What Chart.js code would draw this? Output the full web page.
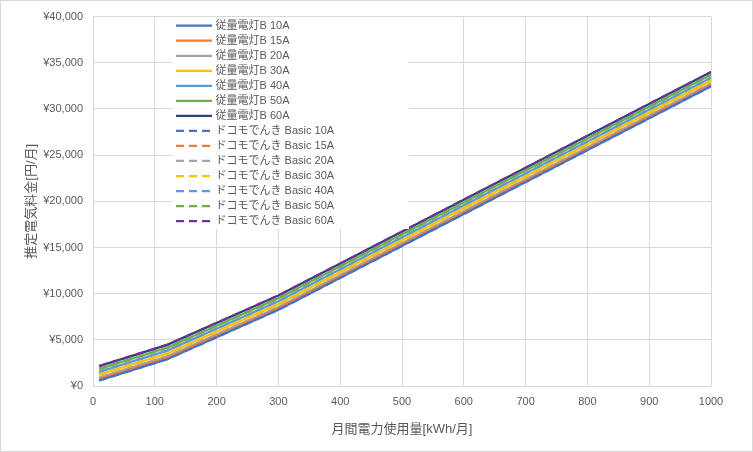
<!DOCTYPE html>
<html>
<head>
<meta charset="utf-8">
<script src="https://cdn.jsdelivr.net/npm/chart.js@4"></script>
<style>
html,body{margin:0;padding:0;background:#fff;}
canvas{display:block;}
</style>
</head>
<body>
<canvas id="c" width="753" height="452"></canvas>
<script>
// usage (kWh/month)
const usage = [10, 120, 300, 1000];

// 従量電灯B (yen/month)
const juryoB10 = [600, 2900, 8250, 32450];
const juryoB15 = [756, 3056, 8406, 32606];
const juryoB20 = [912, 3212, 8562, 32762];
const juryoB30 = [1224, 3524, 8874, 33074];
const juryoB40 = [1535, 3835, 9185, 33385];
const juryoB50 = [1847, 4147, 9497, 33697];
const juryoB60 = [2159, 4459, 9809, 34009];

// ドコモでんき Basic (yen/month)
const docomo10 = [600, 2900, 8250, 32450];
const docomo15 = [756, 3056, 8406, 32606];
const docomo20 = [912, 3212, 8562, 32762];
const docomo30 = [1224, 3524, 8874, 33074];
const docomo40 = [1535, 3835, 9185, 33385];
const docomo50 = [1847, 4147, 9497, 33697];
const docomo60 = [2159, 4459, 9809, 34009];

const juryoLabels = ['従量電灯B 10A','従量電灯B 15A','従量電灯B 20A','従量電灯B 30A','従量電灯B 40A','従量電灯B 50A','従量電灯B 60A'];
const docomoLabels = ['ドコモでんき Basic 10A','ドコモでんき Basic 15A','ドコモでんき Basic 20A','ドコモでんき Basic 30A','ドコモでんき Basic 40A','ドコモでんき Basic 50A','ドコモでんき Basic 60A'];

const yTicksMin = 0, yTicksMax = 40000, yStep = 5000;
const xTicksMin = 0, xTicksMax = 1000, xStep = 100;

const juryoColors = ['#4472C4','#ED7D31','#A5A5A5','#FFC000','#5B9BD5','#70AD47','#264478'];
const docomoColors = ['#4472C4','#ED7D31','#A5A5A5','#FFC000','#5B9BD5','#70AD47','#7030A0'];

const juryoSeries = [juryoB10, juryoB15, juryoB20, juryoB30, juryoB40, juryoB50, juryoB60];
const docomoSeries = [docomo10, docomo15, docomo20, docomo30, docomo40, docomo50, docomo60];

const toPts = arr => usage.map((x, i) => ({x: x, y: arr[i]}));

const datasets = [];
juryoSeries.forEach((s, i) => datasets.push({
  label: juryoLabels[i], data: toPts(s), borderColor: juryoColors[i], backgroundColor: juryoColors[i],
  borderWidth: 2.25, pointRadius: 0, tension: 0, fill: false, order: 2
}));
docomoSeries.forEach((s, i) => datasets.push({
  label: docomoLabels[i], data: toPts(s), borderColor: docomoColors[i], backgroundColor: docomoColors[i],
  borderWidth: 2.25, borderDash: [8, 5], pointRadius: 0, tension: 0, fill: false, order: 1
}));

const FONT = '"Liberation Sans", "Noto Sans CJK JP", sans-serif';
const TXT = '#595959';

const bgPlugin = {
  id: 'bg',
  beforeDraw(chart) {
    const ctx = chart.ctx;
    ctx.save();
    ctx.fillStyle = '#fff';
    ctx.fillRect(0, 0, chart.width, chart.height);
    ctx.strokeStyle = '#D9D9D9';
    ctx.lineWidth = 1;
    ctx.strokeRect(0.5, 0.5, chart.width - 1, chart.height - 1);
    ctx.restore();
  }
};

const legendPlugin = {
  id: 'customLegend',
  afterDatasetsDraw(chart) {
    const ctx = chart.ctx;
    ctx.save();
    ctx.fillStyle = '#fff';
    ctx.fillRect(172, 17, 237, 212);
    const ds = chart.data.datasets;
    ds.forEach((d, i) => {
      const y = 25.7 + i * 15.03;
      ctx.beginPath();
      ctx.setLineDash(d.borderDash || []);
      ctx.strokeStyle = d.borderColor;
      ctx.lineWidth = 2.25;
      ctx.moveTo(176, y);
      ctx.lineTo(212, y);
      ctx.stroke();
      ctx.setLineDash([]);
      ctx.fillStyle = TXT;
      ctx.font = '11px ' + FONT;
      ctx.textBaseline = 'middle';
      ctx.textAlign = 'left';
      ctx.fillText(d.label, 215.5, y);
    });
    ctx.restore();
  }
};

new Chart(document.getElementById('c'), {
  type: 'line',
  data: { datasets: datasets },
  options: {
    responsive: false,
    animation: false,
    devicePixelRatio: 1,
    layout: { padding: { left: 0, right: 42, top: 15, bottom: 0 } },
    plugins: { legend: { display: false }, tooltip: { enabled: false } },
    scales: {
      x: {
        type: 'linear', min: xTicksMin, max: xTicksMax,
        ticks: { stepSize: xStep, color: TXT, font: { size: 11, family: FONT }, padding: 9, maxRotation: 0,
          callback: v => String(v) },
        grid: { color: '#D9D9D9', lineWidth: 1, drawTicks: false },
        border: { color: '#D9D9D9' },
        title: { display: true, text: '月間電力使用量[kWh/月]', color: TXT, font: { size: 13, family: FONT }, padding: { top: 4, bottom: 15 } },
        afterFit(s) { s.height = 66; }
      },
      y: {
        type: 'linear', min: yTicksMin, max: yTicksMax,
        ticks: { stepSize: yStep, color: TXT, font: { size: 11, family: FONT }, padding: 10,
          callback: v => '¥' + Number(v).toLocaleString('en-US') },
        grid: { color: '#D9D9D9', lineWidth: 1, drawTicks: false },
        border: { color: '#D9D9D9' },
        title: { display: true, text: '推定電気料金[円/月]', color: TXT, font: { size: 13, family: FONT }, padding: { top: 24 } },
        afterFit(s) { s.width = 93; }
      }
    }
  },
  plugins: [bgPlugin, legendPlugin]
});
</script>
</body>
</html>
